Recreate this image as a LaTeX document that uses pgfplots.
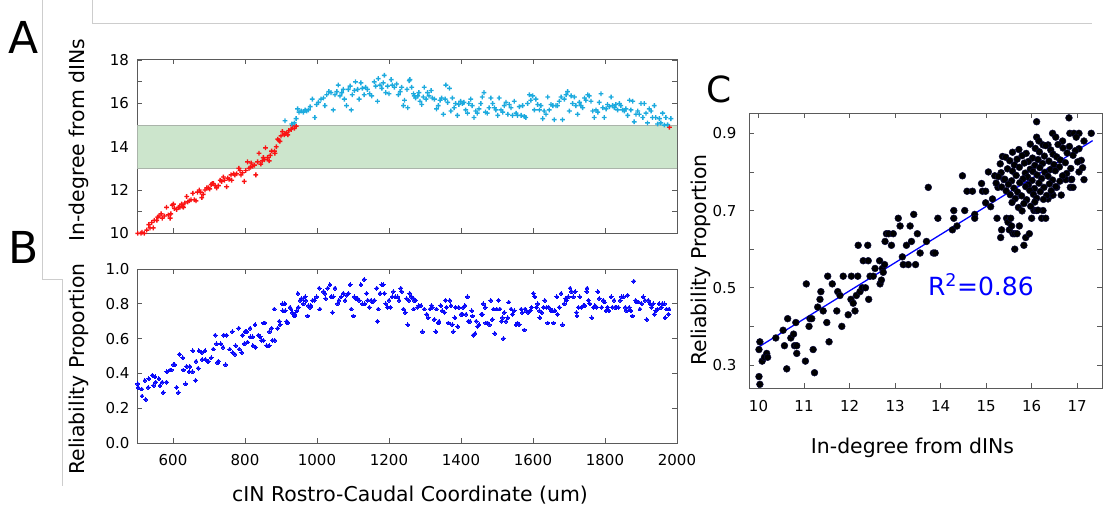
\documentclass[border=0pt]{standalone}
\usepackage{pgfplots}
\usepackage{pgfplotstable}
\pgfplotsset{compat=1.18}
\usepackage{fontspec}
\setmainfont{DejaVu Sans}
\definecolor{cyanpt}{RGB}{28,170,222}
\definecolor{redpt}{RGB}{250,20,20}
\definecolor{bandgreen}{RGB}{204,229,204}
\definecolor{bandedge}{RGB}{170,180,170}
\definecolor{axgray}{RGB}{90,90,90}
\definecolor{framegray}{RGB}{205,205,205}
\definecolor{dotblue}{RGB}{10,10,250}
\definecolor{dotedge}{RGB}{10,10,60}

% a plus sign built from two filled bars
\pgfdeclareplotmark{fplus}{%
  \pgfpathrectangle{\pgfpoint{-\pgfplotmarksize}{-0.7pt}}{\pgfpoint{2\pgfplotmarksize}{1.4pt}}%
  \pgfpathrectangle{\pgfpoint{-0.7pt}{-\pgfplotmarksize}}{\pgfpoint{1.4pt}{2\pgfplotmarksize}}%
  \pgfusepathqfill}

% Panel A, cells with in-degree below 15 (red)
\pgfplotstableread{
x y
502 10.0
511 10.0
514 10.05
520 10.0
527 10.15
533 10.4
536 10.25
541 10.5
545 10.25
548 10.6
555 10.6
558 10.75
561 10.8
567 10.9
570 10.7
576 10.8
582 11.2
587 10.85
592 10.7
594 10.9
598 11.3
601 11.35
604 11.15
610 11.1
615 11.2
619 11.2
624 11.35
626 11.25
629 11.2
633 11.4
638 11.7
641 11.45
645 11.5
650 11.55
655 11.85
659 11.55
664 11.5
668 11.9
673 12.0
676 11.9
680 11.65
684 11.8
689 12.0
694 12.1
698 12.1
702 12.05
706 12.25
709 12.3
712 12.3
717 12.2
721 12.1
726 12.2
731 12.45
735 12.4
740 12.6
743 12.45
749 12.15
752 12.55
756 12.5
761 12.7
763 12.45
768 12.75
772 12.7
777 12.75
783 13.0
786 12.9
789 12.7
793 12.8
798 12.4
802 12.9
807 13.3
811 13.0
815 13.05
817 13.25
821 13.1
826 13.15
830 12.7
835 13.3
839 13.7
844 13.2
848 13.35
851 13.5
854 13.4
857 13.95
863 13.5
867 13.35
870 13.6
874 13.8
882 13.8
883 13.7
887 14.0
891 14.35
894 14.3
897 14.25
900 14.5
904 14.7
909 14.55
912 14.6
916 14.65
919 14.55
922 14.75
928 14.8
932 14.97
937 14.85
942 14.95
1979 14.9
}\dataAred

% Panel A, cells with in-degree of 15 or more (cyan)
\pgfplotstableread{
x y
911 15.2
930 15.05
937 15.1
942 15.3
946 15.75
950 15.6
956 15.65
962 15.6
967 15.7
971 15.65
976 15.7
981 15.85
987 16.2
994 15.35
999 15.95
1004 16.05
1011 16.2
1018 16.25
1022 15.9
1027 16.4
1033 16.55
1039 16.5
1045 15.7
1050 16.4
1055 16.55
1059 16.85
1064 16.35
1069 16.5
1073 16.65
1076 16.2
1082 15.9
1087 16.65
1092 16.8
1095 15.7
1098 16.4
1104 16.6
1107 17.0
1113 16.65
1117 16.2
1122 16.95
1126 16.7
1131 16.4
1135 16.75
1140 16.65
1146 16.45
1152 16.35
1159 17.0
1163 16.8
1168 16.1
1170 17.15
1175 16.85
1180 16.7
1184 16.95
1187 17.3
1191 16.5
1196 16.8
1200 16.45
1206 17.1
1209 16.85
1215 16.75
1221 16.9
1226 16.4
1231 16.55
1235 16.75
1240 15.9
1243 16.15
1250 16.65
1252 15.8
1256 17.05
1258 17.1
1263 16.75
1268 16.45
1270 16.35
1274 16.25
1280 16.35
1283 16.5
1286 16.1
1291 15.95
1295 16.3
1298 16.75
1303 16.2
1307 16.5
1311 16.35
1317 16.6
1320 16.25
1326 16.2
1332 15.75
1337 15.9
1342 16.15
1346 16.25
1351 15.5
1356 16.2
1358 16.85
1363 16.05
1368 16.7
1372 15.65
1376 16.25
1381 15.8
1385 16.0
1390 15.45
1394 15.95
1399 16.1
1404 16.0
1408 16.05
1413 15.7
1418 15.55
1422 16.0
1427 16.2
1431 15.9
1436 15.35
1441 15.65
1445 15.55
1450 15.75
1455 16.0
1459 16.3
1464 16.5
1468 15.6
1473 15.55
1478 15.8
1483 16.25
1488 16.0
1493 15.8
1497 15.7
1502 15.45
1506 16.25
1511 15.7
1516 15.6
1520 15.9
1525 16.05
1530 15.5
1534 15.95
1539 15.8
1543 15.45
1548 16.1
1553 15.55
1557 15.45
1562 15.85
1567 15.45
1571 15.9
1576 15.4
1580 15.35
1585 16.0
1590 16.4
1594 16.15
1599 16.35
1604 15.7
1608 16.2
1613 15.95
1618 15.7
1622 15.9
1627 15.3
1631 15.65
1636 15.5
1641 16.3
1645 15.7
1650 15.95
1655 15.9
1659 15.25
1664 15.9
1668 15.9
1673 16.1
1678 16.3
1682 15.25
1687 16.2
1692 16.4
1696 16.55
1701 15.65
1706 16.35
1710 16.0
1715 16.3
1719 15.9
1724 15.5
1729 16.05
1733 15.9
1738 15.8
1743 16.25
1747 16.15
1752 16.4
1756 16.35
1761 16.1
1766 15.65
1770 15.35
1775 15.7
1780 15.6
1784 16.05
1789 16.45
1794 15.8
1798 15.35
1803 15.75
1807 15.95
1812 15.85
1817 16.3
1821 15.9
1826 15.8
1830 15.95
1835 15.7
1840 16.0
1844 15.9
1849 15.7
1854 15.65
1858 15.75
1863 15.45
1868 16.15
1872 15.7
1877 16.1
1881 15.15
1886 15.5
1891 15.65
1895 15.5
1900 16.0
1905 15.35
1909 16.0
1914 15.55
1918 15.1
1923 15.75
1928 15.65
1932 15.35
1937 15.9
1941 15.35
1946 15.05
1951 15.3
1955 15.1
1960 15.55
1965 15.0
1969 15.35
1974 15.02
1983 15.3
}\dataAcyan

% Panel B
\pgfplotstableread{
x y
502 0.34
503 0.32
513 0.31
514 0.27
522 0.36
524 0.25
531 0.32
533 0.37
543 0.39
546 0.33
550 0.38
552 0.35
561 0.37
564 0.33
570 0.35
573 0.29
582 0.35
583 0.41
592 0.42
595 0.42
601 0.45
605 0.45
610 0.32
615 0.29
618 0.51
627 0.49
629 0.42
635 0.34
638 0.44
645 0.41
647 0.44
654 0.41
655 0.53
663 0.36
664 0.47
670 0.43
672 0.53
680 0.52
681 0.48
689 0.53
690 0.48
696 0.47
698 0.47
706 0.49
712 0.54
717 0.62
721 0.57
724 0.46
726 0.47
733 0.57
739 0.55
741 0.62
746 0.45
749 0.62
758 0.54
765 0.64
766 0.52
772 0.51
774 0.56
783 0.66
784 0.54
791 0.52
793 0.62
798 0.57
800 0.64
805 0.64
807 0.58
814 0.66
815 0.61
821 0.61
822 0.56
828 0.68
829 0.55
837 0.62
842 0.61
846 0.59
851 0.59
852 0.69
855 0.69
860 0.56
867 0.56
868 0.64
874 0.66
876 0.59
881 0.77
883 0.59
891 0.66
895 0.70
898 0.68
904 0.80
905 0.76
911 0.80
912 0.76
916 0.70
918 0.69
925 0.78
928 0.77
931 0.75
937 0.73
939 0.74
944 0.76
947 0.86
948 0.78
953 0.82
957 0.83
962 0.80
967 0.84
969 0.82
974 0.73
976 0.79
981 0.78
983 0.79
988 0.82
993 0.82
999 0.84
1006 0.89
1008 0.77
1018 0.87
1022 0.86
1024 0.83
1030 0.89
1036 0.91
1039 0.84
1043 0.75
1045 0.84
1050 0.89
1057 0.80
1061 0.82
1067 0.84
1073 0.86
1078 0.82
1083 0.85
1087 0.86
1092 0.91
1095 0.77
1101 0.73
1104 0.84
1107 0.83
1113 0.83
1117 0.82
1122 0.91
1126 0.80
1131 0.94
1133 0.80
1138 0.86
1141 0.82
1145 0.78
1150 0.82
1154 0.81
1159 0.82
1166 0.89
1168 0.70
1170 0.77
1175 0.86
1180 0.91
1184 0.91
1187 0.86
1191 0.80
1196 0.78
1200 0.82
1204 0.78
1209 0.84
1212 0.87
1217 0.84
1224 0.84
1228 0.82
1233 0.89
1235 0.87
1240 0.77
1245 0.75
1249 0.83
1252 0.68
1255 0.82
1258 0.86
1263 0.84
1268 0.83
1269 0.77
1270 0.82
1274 0.82
1280 0.78
1283 0.79
1289 0.79
1293 0.64
1298 0.77
1305 0.74
1309 0.72
1314 0.77
1318 0.79
1320 0.78
1326 0.71
1330 0.64
1332 0.77
1337 0.69
1339 0.70
1344 0.79
1348 0.76
1354 0.75
1357 0.82
1360 0.78
1365 0.69
1369 0.82
1372 0.79
1376 0.68
1379 0.64
1383 0.72
1385 0.78
1391 0.67
1394 0.78
1400 0.74
1404 0.74
1406 0.78
1411 0.79
1414 0.74
1418 0.84
1420 0.70
1425 0.70
1430 0.76
1432 0.73
1434 0.62
1439 0.63
1442 0.70
1446 0.67
1450 0.68
1456 0.74
1459 0.74
1462 0.80
1467 0.78
1469 0.69
1474 0.69
1479 0.68
1483 0.82
1487 0.71
1490 0.77
1494 0.63
1499 0.77
1504 0.82
1508 0.77
1513 0.70
1515 0.72
1518 0.60
1520 0.75
1525 0.70
1530 0.72
1533 0.81
1539 0.77
1543 0.74
1548 0.76
1553 0.68
1557 0.69
1562 0.68
1567 0.77
1570 0.75
1576 0.65
1578 0.77
1582 0.76
1587 0.75
1592 0.76
1596 0.78
1601 0.86
1605 0.84
1610 0.78
1613 0.80
1618 0.76
1619 0.72
1624 0.75
1629 0.78
1633 0.82
1638 0.78
1641 0.69
1644 0.78
1650 0.76
1654 0.76
1657 0.69
1661 0.76
1666 0.84
1668 0.74
1673 0.78
1678 0.86
1682 0.68
1687 0.80
1691 0.83
1693 0.82
1698 0.84
1703 0.89
1707 0.87
1712 0.84
1717 0.87
1721 0.75
1722 0.73
1726 0.78
1730 0.84
1735 0.78
1740 0.79
1744 0.79
1749 0.87
1750 0.89
1754 0.82
1758 0.80
1763 0.72
1768 0.78
1772 0.79
1777 0.78
1780 0.87
1784 0.83
1791 0.78
1795 0.82
1798 0.81
1803 0.76
1807 0.78
1811 0.76
1817 0.84
1820 0.78
1825 0.82
1828 0.78
1832 0.78
1837 0.78
1842 0.82
1846 0.84
1851 0.84
1856 0.78
1860 0.76
1863 0.85
1867 0.78
1872 0.76
1876 0.73
1880 0.93
1885 0.82
1888 0.81
1893 0.81
1897 0.77
1902 0.80
1906 0.84
1911 0.82
1916 0.71
1920 0.82
1925 0.80
1930 0.78
1934 0.80
1937 0.74
1941 0.76
1946 0.77
1950 0.80
1956 0.78
1959 0.80
1965 0.80
1967 0.72
1971 0.77
1976 0.74
1978 0.77
}\dataB

% Panel C: in-degree vs reliability
\pgfplotstableread{
x y
10.01 0.27
10.03 0.25
10.01 0.34
10.03 0.36
10.08 0.31
10.13 0.32
10.18 0.33
10.20 0.32
10.38 0.37
10.54 0.39
10.57 0.35
10.62 0.29
10.64 0.42
10.71 0.37
10.77 0.38
10.79 0.35
10.84 0.35
10.84 0.33
10.82 0.41
11.03 0.31
11.05 0.51
11.11 0.40
11.13 0.42
11.17 0.42
11.20 0.34
11.23 0.28
11.30 0.45
11.35 0.47
11.37 0.49
11.42 0.44
11.50 0.41
11.52 0.53
11.55 0.36
11.62 0.51
11.72 0.44
11.74 0.49
11.79 0.48
11.83 0.40
11.86 0.53
11.97 0.43
12.03 0.47
12.04 0.53
12.08 0.46
12.12 0.44
12.15 0.48
12.18 0.53
12.19 0.61
12.23 0.49
12.28 0.50
12.30 0.57
12.35 0.50
12.40 0.61
12.41 0.57
12.42 0.47
12.45 0.53
12.52 0.53
12.56 0.55
12.66 0.57
12.67 0.51
12.70 0.52
12.72 0.55
12.74 0.54
12.77 0.56
12.78 0.62
12.81 0.64
12.86 0.64
12.92 0.61
12.96 0.64
13.07 0.68
13.11 0.66
13.16 0.58
13.18 0.56
13.25 0.61
13.29 0.56
13.33 0.66
13.36 0.62
13.41 0.69
13.45 0.56
13.49 0.64
13.55 0.59
13.69 0.62
13.73 0.76
13.84 0.59
13.88 0.59
13.94 0.68
14.26 0.65
14.29 0.70
14.29 0.68
14.36 0.66
14.48 0.79
14.53 0.70
14.58 0.75
14.70 0.75
14.75 0.69
14.75 0.68
14.90 0.77
14.92 0.75
14.99 0.75
14.99 0.72
15.05 0.80
15.10 0.71
15.14 0.73
15.19 0.79
15.24 0.68
15.26 0.76
15.32 0.63
15.34 0.65
15.36 0.84
15.39 0.78
15.45 0.68
15.48 0.67
15.51 0.65
15.54 0.68
15.56 0.66
15.59 0.64
15.63 0.60
15.63 0.64
15.68 0.64
15.73 0.66
15.83 0.61
15.87 0.63
15.95 0.64
16.00 0.68
16.05 0.70
16.11 0.70
16.22 0.68
16.25 0.70
16.31 0.68
16.36 0.73
16.44 0.74
16.47 0.74
16.55 0.76
16.65 0.74
16.75 0.78
16.85 0.76
16.91 0.76
16.87 0.78
17.04 0.80
17.15 0.78
16.11 0.93
16.82 0.94
17.31 0.90
16.84 0.90
16.93 0.90
17.04 0.90
16.98 0.89
17.15 0.88
17.04 0.86
17.09 0.83
16.46 0.90
16.53 0.89
16.68 0.88
16.11 0.89
16.16 0.88
16.36 0.87
16.25 0.87
15.97 0.872
16.31 0.868
16.58 0.871
16.83 0.866
15.72 0.858
16.08 0.861
16.42 0.857
16.69 0.862
16.96 0.855
15.58 0.851
15.88 0.848
16.17 0.852
16.47 0.846
16.78 0.849
15.43 0.838
15.79 0.842
16.02 0.836
16.28 0.841
16.55 0.839
16.91 0.843
15.52 0.829
15.68 0.833
15.93 0.827
16.14 0.832
16.38 0.828
16.63 0.831
17.01 0.826
15.31 0.821
15.62 0.818
15.84 0.823
16.07 0.817
16.24 0.822
16.49 0.819
16.74 0.824
15.47 0.808
15.73 0.812
15.97 0.807
16.18 0.811
16.41 0.806
16.61 0.813
16.86 0.809
17.12 0.811
15.33 0.798
15.58 0.802
15.86 0.797
16.03 0.801
16.29 0.799
16.52 0.803
16.77 0.796
15.27 0.788
15.66 0.791
15.91 0.787
16.12 0.792
16.36 0.789
16.68 0.790
15.41 0.781
15.56 0.777
15.81 0.782
16.01 0.778
16.22 0.783
16.46 0.779
16.62 0.776
16.88 0.781
15.22 0.771
15.49 0.768
15.74 0.772
15.93 0.767
16.16 0.771
16.39 0.769
15.34 0.761
15.61 0.758
15.87 0.762
16.06 0.757
16.27 0.760
16.53 0.762
15.44 0.751
15.69 0.748
15.96 0.752
16.19 0.749
16.43 0.751
15.53 0.741
15.78 0.738
16.04 0.742
16.33 0.739
15.64 0.731
15.89 0.728
16.11 0.732
16.26 0.729
15.57 0.721
15.83 0.718
16.07 0.722
15.71 0.708
15.98 0.711
15.79 0.699
16.14 0.701
}\dataC

\pgfplotsset{
  panel/.style={
    scale only axis, anchor=north west,
    axis line style={axgray, line width=1pt},
    every tick/.style={axgray, line width=0.8pt},
    tick align=inside,
    major tick length=5pt, minor tick length=5pt,
    tick label style={font=\fontsize{15}{18}\selectfont, text=black},
  }
}

\begin{document}
\begin{tikzpicture}
\path[use as bounding box] (0,0) rectangle (1106pt,-507pt);

% light frame lines of the composite figure
\draw[framegray, line width=0.9pt] (92pt,0pt) -- (92pt,-23pt) -- (1092pt,-23pt);
\draw[framegray, line width=0.9pt] (42pt,0pt) -- (42pt,-279pt) -- (62pt,-279pt) -- (62pt,-486pt);

% ---------------- Panel A ----------------
\begin{axis}[panel, at={(137pt,-59.3pt)}, width=540pt, height=174pt,
  xmin=500, xmax=2000, ymin=10, ymax=18.04,
  xtick={600,800,1000,1200,1400,1600,1800}, xticklabels={},
  ytick={10,12,14,16,18}, yticklabels={10,12,14,16,18},
  minor ytick={11,13,15,17},
  yticklabel style={xshift=-4.5pt},
]
\addplot[fill=bandgreen, draw=bandedge, line width=1pt] coordinates {(500,13) (2000,13) (2000,15) (500,15)} -- cycle;
\addplot[only marks, mark=fplus, mark size=2.4pt, color=redpt, mark options={fill=redpt, draw=none}] table {\dataAred};
\addplot[only marks, mark=fplus, mark size=2.4pt, color=cyanpt, mark options={fill=cyanpt, draw=none}] table {\dataAcyan};
\end{axis}

% ---------------- Panel B ----------------
\begin{axis}[panel, at={(137pt,-269pt)}, width=540pt, height=174pt,
  xmin=500, xmax=2000, ymin=0, ymax=1.0,
  xtick={600,800,1000,1200,1400,1600,1800,2000},
  xticklabels={600,800,1000,1200,1400,1600,1800,2000},
  ytick={0,0.2,0.4,0.6,0.8,1.0}, yticklabels={0.0,0.2,0.4,0.6,0.8,1.0},
  yticklabel style={xshift=-4pt},
  xticklabel style={yshift=-8pt},
]
\addplot[only marks, mark=*, mark size=1.9pt, color=dotblue, mark options={draw=dotblue, fill=dotblue, line width=0pt}] table {\dataB};
\end{axis}

% ---------------- Panel C ----------------
\begin{axis}[panel, at={(749pt,-113pt)}, width=353pt, height=275pt,
  xmin=9.791, xmax=17.546, ymin=0.2404, ymax=0.9526,
  xtick={10,11,12,13,14,15,16,17}, xticklabels={10,11,12,13,14,15,16,17},
  ytick={0.3,0.5,0.7,0.9}, yticklabels={0.3,0.5,0.7,0.9},
  minor ytick={0.4,0.6,0.8},
  yticklabel style={xshift=-9pt},
  xticklabel style={yshift=-9pt},
]
\addplot[only marks, mark=*, mark size=3.4pt, color=black, mark options={fill=black, draw=dotedge, line width=0.5pt}] table {\dataC};
\addplot[blue, line width=1.3pt] coordinates {(9.98,0.345) (17.34,0.881)};
\node[anchor=base west, text=blue, font=\fontsize{25}{30}\selectfont, inner sep=0pt] at (axis cs:13.72,0.481) {R\textsuperscript{2}=0.86};
\end{axis}

% axis labels
\node[rotate=90, anchor=base, inner sep=0pt, font=\fontsize{20.4}{24}\selectfont] at (84.5pt,-140pt) {In-degree from dINs};
\node[rotate=90, anchor=base, inner sep=0pt, font=\fontsize{20.4}{24}\selectfont] at (84pt,-369pt) {Reliability Proportion};
\node[anchor=base, inner sep=0pt, font=\fontsize{20.4}{24}\selectfont] at (410pt,-501pt) {cIN Rostro-Caudal Coordinate (um)};
\node[anchor=base, inner sep=0pt, font=\fontsize{20.4}{24}\selectfont] at (912.5pt,-453pt) {In-degree from dINs};
\node[rotate=90, anchor=base, inner sep=0pt, font=\fontsize{20.4}{24}\selectfont] at (706.5pt,-260pt) {Reliability Proportion};

% panel letters
\node[anchor=base west, inner sep=0pt, font=\fontsize{44}{50}\selectfont] at (8pt,-53.3pt) {A};
\node[anchor=base west, inner sep=0pt, font=\fontsize{44}{50}\selectfont] at (8.5pt,-263.3pt) {B};
\node[anchor=base west, inner sep=0pt, font=\fontsize{36}{42}\selectfont] at (706pt,-102.5pt) {C};
\end{tikzpicture}
\end{document}
